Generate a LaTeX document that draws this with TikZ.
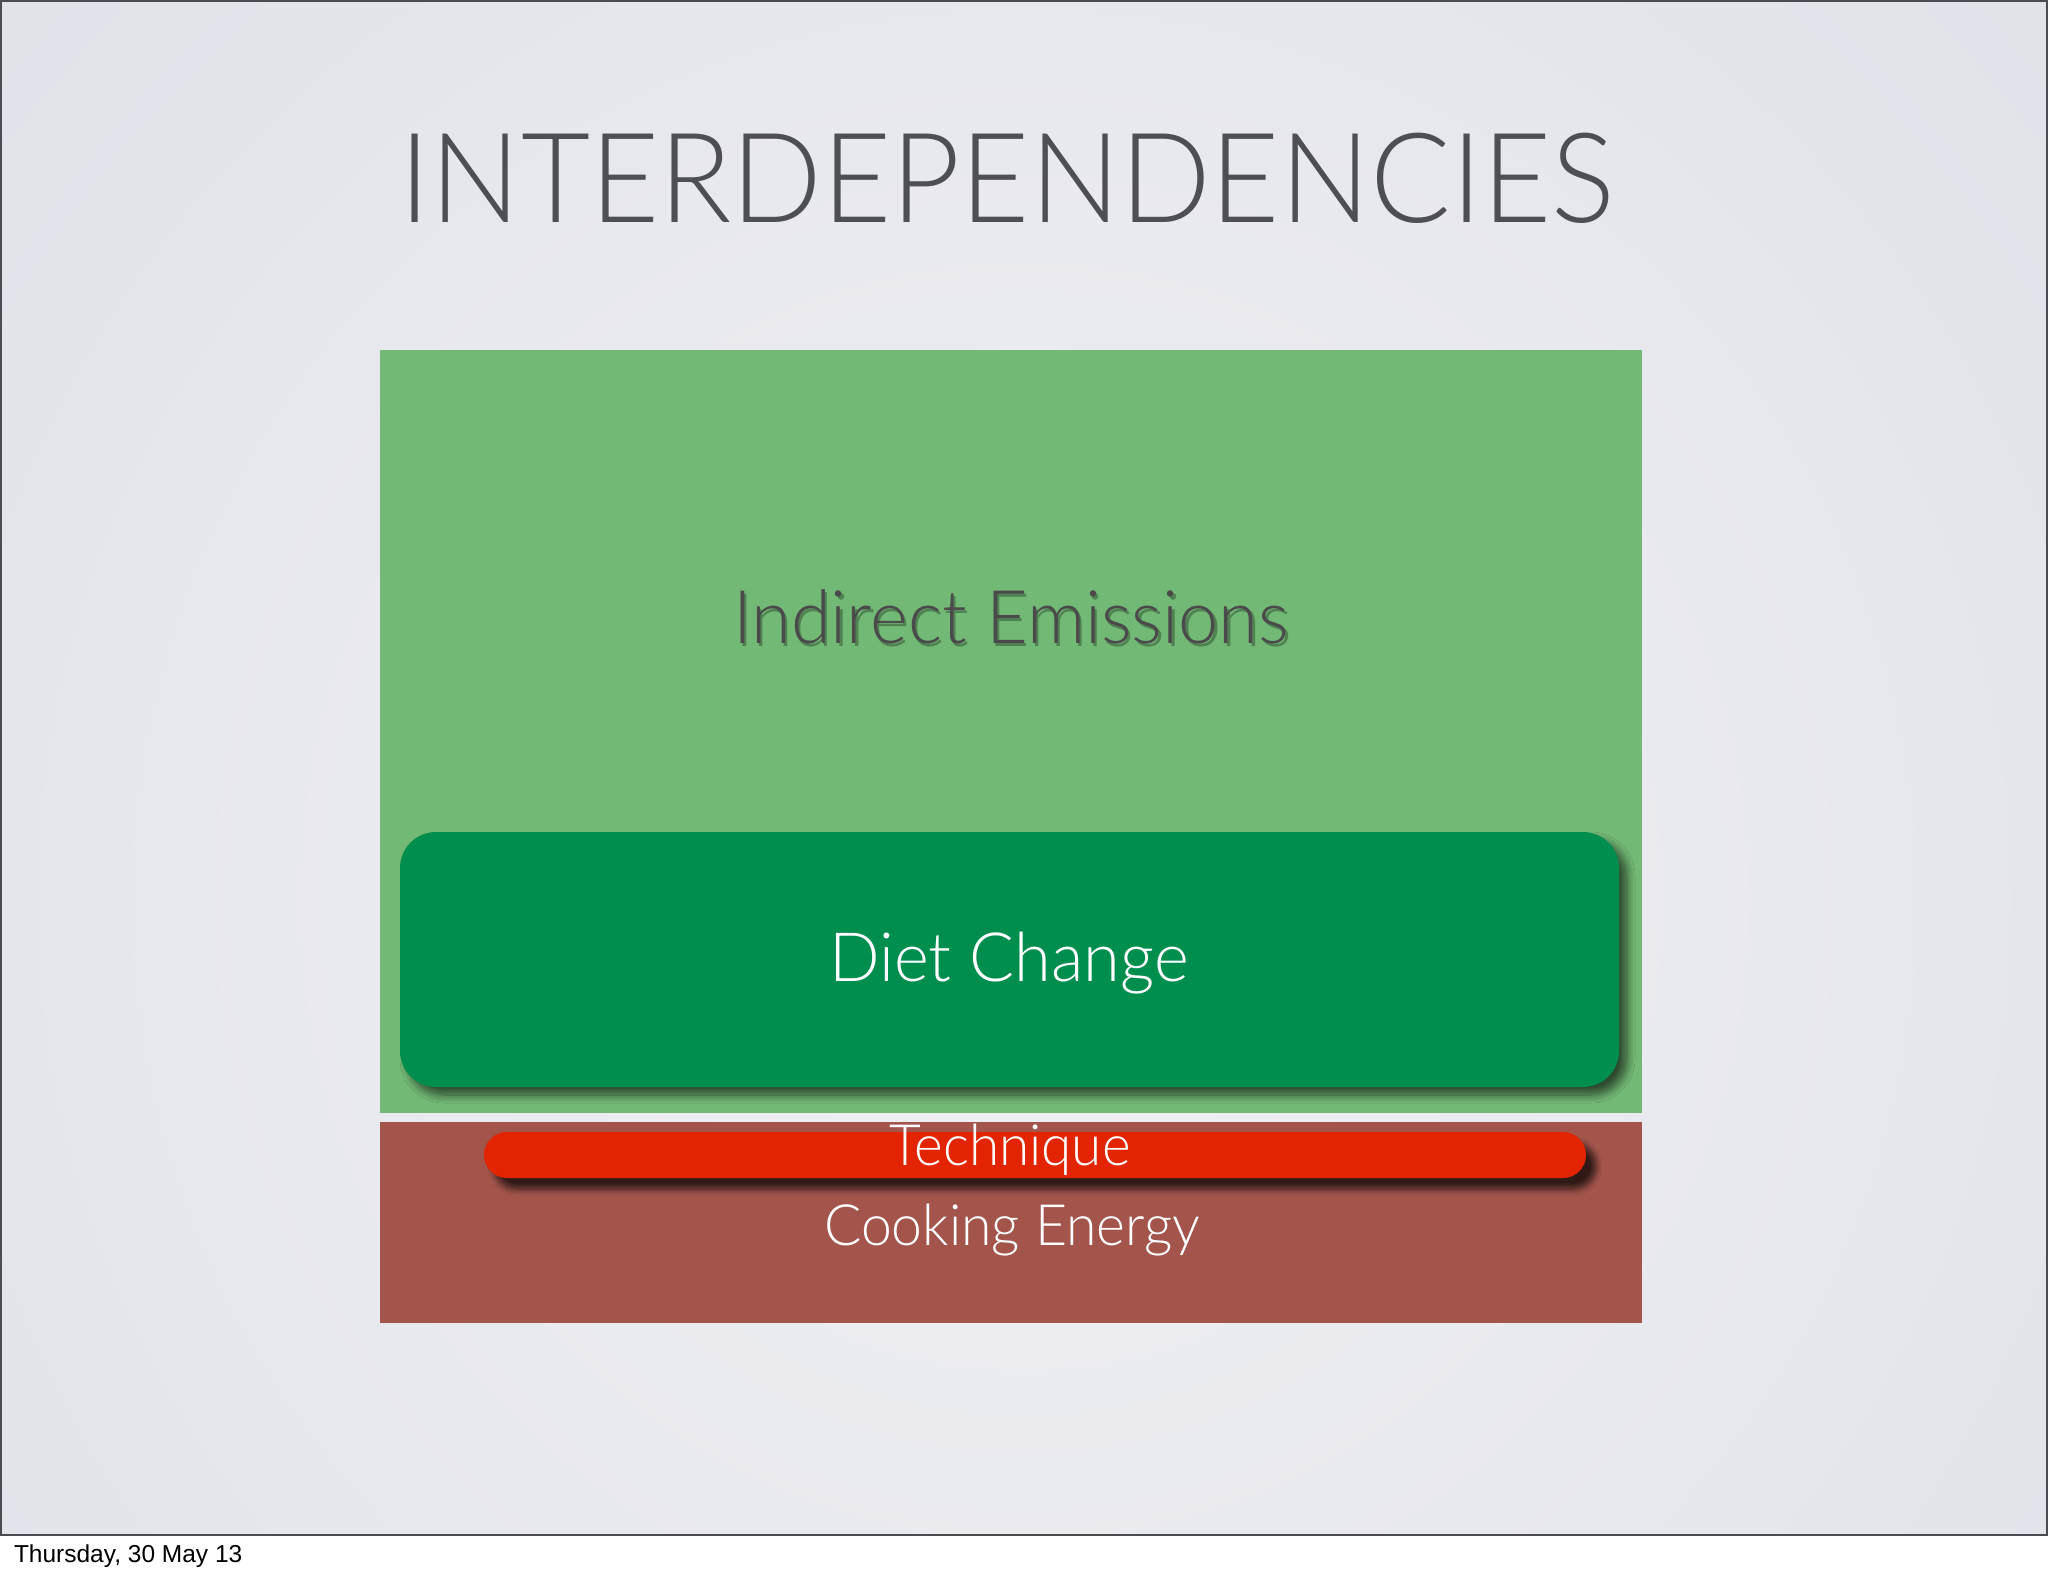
\documentclass[tikz,border=0pt]{standalone}
\usepackage{fontspec}
\setmainfont{Liberation Sans}
\newfontfamily\gill{Lato Light}
\usetikzlibrary{shadows.blur}
\definecolor{bgin}{HTML}{F1F1F5}
\definecolor{bgout}{HTML}{D1D4DD}
\definecolor{slideline}{HTML}{4A4C50}
\definecolor{lightgreen}{HTML}{72B975}
\definecolor{darkgreen}{HTML}{008E4F}
\definecolor{brown}{HTML}{A3554C}
\definecolor{redbar}{HTML}{E22400}
\definecolor{titlegray}{HTML}{4E4F53}
\definecolor{textgray}{HTML}{4A4A4A}
\begin{document}
\begin{tikzpicture}[x=1pt,y=-1pt,
  block/.style={rectangle,inner sep=0pt,outer sep=0pt},
  lbl/.style={inner sep=0pt,outer sep=0pt,anchor=base,font=\gill},
]
\useasboundingbox (0,0) rectangle (2048,1576);
\fill[white] (0,0) rectangle (2048,1576);
\begin{scope}
\clip (0,0) rectangle (2048,1535);
\shade[inner color=bgin,outer color=bgout] (-1702,-1826) rectangle (3750,3626);
\end{scope}
\draw[slideline,line width=2pt] (1,1) rectangle (2047,1535);

\node[block,fill=lightgreen,minimum width=1262pt,minimum height=763pt] (indirect) at (1011,731.5) {};
\node[block,fill=brown,minimum width=1262pt,minimum height=201pt] (cooking) at (1011,1222.5) {};
\node[block,fill=darkgreen,rounded corners=36pt,minimum width=1219pt,minimum height=255pt,
  blur shadow={shadow xshift=8pt,shadow yshift=-8pt,shadow opacity=60,shadow blur steps=10,shadow blur radius=8pt}] (diet) at (1009.5,959.5) {};
\node[block,fill=redbar,rounded corners=23pt,minimum width=1102pt,minimum height=46pt,
  blur shadow={shadow xshift=10pt,shadow yshift=-11pt,shadow opacity=70,shadow blur steps=8,shadow blur radius=6pt}] (technique) at (1035,1155) {};

\node[lbl,text=titlegray,font=\gill\fontsize{125}{125}\selectfont] (title) at (1007.5,222) {\scalebox{0.955}[1]{INTERDEPENDENCIES}};
\node[lbl,text=black,opacity=0.3,font=\gill\fontsize{74}{74}\selectfont] (indirectshadow) at (1013.5,646) {\scalebox{0.975}[1]{Indirect Emissions}};
\node[lbl,text=textgray,font=\gill\fontsize{74}{74}\selectfont] (indirecttext) at (1011,643) {\scalebox{0.975}[1]{Indirect Emissions}};
\node[lbl,text=white,font=\gill\fontsize{68}{68}\selectfont] (diettext) at (1009,981) {\scalebox{0.98}[1]{Diet Change}};
\node[lbl,text=white,font=\gill\fontsize{57}{57}\selectfont] (techtext) at (1010,1165) {\scalebox{0.963}[1]{Technique}};
\node[lbl,text=white,font=\gill\fontsize{57}{57}\selectfont] (cooktext) at (1012,1245) {\scalebox{0.97}[1]{Cooking Energy}};
\node[inner sep=0pt,outer sep=0pt,anchor=base west,font=\fontsize{24.5}{26}\selectfont] (date) at (14,1562) {Thursday, 30 May 13};
\end{tikzpicture}
\end{document}
